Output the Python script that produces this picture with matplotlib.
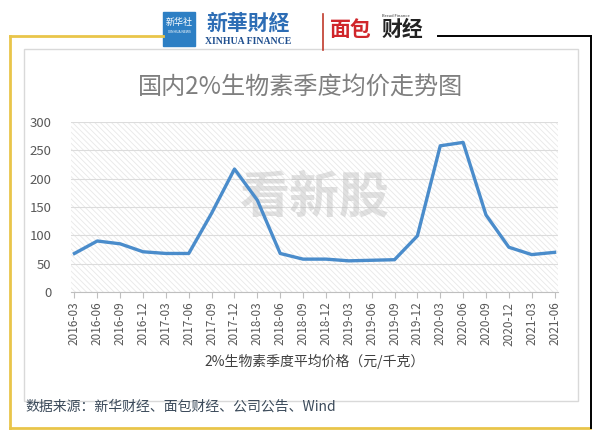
"""国内2%生物素季度均价走势图 — 折线图复刻."""
import matplotlib
matplotlib.use("Agg")
import matplotlib.pyplot as plt
from matplotlib.lines import Line2D
from matplotlib.patches import Rectangle

plt.rcParams["font.family"] = ["Noto Sans CJK SC", "DejaVu Sans"]
plt.rcParams["hatch.linewidth"] = 0.6

quarters = ["2016-03", "2016-06", "2016-09", "2016-12", "2017-03", "2017-06",
            "2017-09", "2017-12", "2018-03", "2018-06", "2018-09", "2018-12",
            "2019-03", "2019-06", "2019-09", "2019-12", "2020-03", "2020-06",
            "2020-09", "2020-12", "2021-03", "2021-06"]
prices = [68, 90, 85, 71, 68, 68, 139, 217, 162, 68, 58, 58,
          55, 56, 57, 99, 258, 264, 136, 79, 66, 70]
yticks = [0, 50, 100, 150, 200, 250, 300]

W, H = 600, 438
fig = plt.figure(figsize=(W / 100, H / 100), dpi=100)


def px(x, y):
    return x / W, 1 - y / H


# outer frame: gold left/bottom/top-left, black top-right/right
gold = "#e9c54a"
for (x0, y0), (x1, y1), c in [((10, 36), (163, 36), gold),
                              ((10, 36), (10, 428), gold),
                              ((10, 428), (590, 428), gold),
                              ((438, 36), (591, 36), "black"),
                              ((591, 36), (591, 428), "black")]:
    a, b = px(x0, y0)
    c2, d = px(x1, y1)
    fig.add_artist(Line2D([a, c2], [b, d], color=c, lw=2 if c == gold else 1.4))

# inner chart box
bx, by = px(24, 401)
fig.add_artist(Rectangle((bx, by), (578 - 24) / W, (401 - 49) / H,
                         fill=False, ec="#d9d9d9", lw=1))

# logos (text stand-ins)
lx, ly = px(163, 12)
fig.add_artist(Rectangle((lx, 1 - 46 / H), 32 / W, 34 / H, color="#2d7fc4"))
fig.text(*px(179, 22), "新华社", color="white", fontsize=6.5, ha="center", va="center")
fig.text(*px(179, 32), "XINHUA NEWS", color="white", fontsize=2.5, ha="center", va="center")
fig.text(*px(248, 23), "新華財経", color="#2d6db5", fontsize=15, ha="center",
         va="center", style="italic", weight="bold")
fig.text(*px(248, 41), "XINHUA FINANCE", color="#1f4f8f", fontsize=7,
         ha="center", va="center", family="Liberation Serif", weight="bold")
fig.add_artist(Line2D([323 / W, 323 / W], [1 - 14 / H, 1 - 50 / H], color="#c0392b", lw=1.2))
fig.text(*px(351, 29), "面包", color="#d0262b", fontsize=15, ha="center",
         va="center", weight="bold")
fig.text(*px(402, 29), "财经", color="#222222", fontsize=15, ha="center",
         va="center", weight="bold")
fig.text(*px(410, 16), "Bread Finance", color="#333333", fontsize=3, ha="right", va="center")

# plot area
x0, y0 = px(71, 292)
ax = fig.add_axes([x0, y0, (558 - 71) / W, (292 - 122) / H])
ax.add_patch(Rectangle((0, 0), 1, 1, transform=ax.transAxes, fill=False,
                       hatch="\\\\\\\\\\\\", ec="#e8e8e8", lw=0, zorder=0))
ax.set_facecolor("white")
ax.plot(range(len(prices)), prices, color="#4a8ccb", lw=2.4, zorder=3)
ax.set_ylim(0, 300)
ax.set_xlim(-0.15, len(prices) - 0.85)
ax.set_yticks(yticks)
ax.set_yticklabels([str(v) for v in yticks], color="#595959", fontsize=9.5)
ax.grid(axis="y", color="#dcdcdc", lw=0.8)
ax.set_axisbelow(True)
ax.set_xticks(range(len(quarters)))
ax.set_xticklabels(quarters, rotation=90, color="#595959", fontsize=8.5)
ax.tick_params(axis="y", length=0, pad=14)
ax.tick_params(axis="x", length=4, color="#bfbfbf", pad=3)
for s in ["top", "right", "left"]:
    ax.spines[s].set_visible(False)
ax.spines["bottom"].set_color("#bfbfbf")
ax.set_xlabel("2%生物素季度平均价格（元/千克）", color="#404040", fontsize=10, labelpad=6)

# watermark
ax.text(0.5, 0.55, "看新股", transform=ax.transAxes, fontsize=36, color="#b5b5b5",
        alpha=0.4, ha="center", va="center", weight="bold", style="italic", zorder=1)

fig.text(*px(301, 88), "国内2%生物素季度均价走势图", color="#7f7f7f", fontsize=17.4,
         ha="center", va="center")
fig.text(*px(25, 407), "数据来源：新华财经、面包财经、公司公告、Wind", color="#3b4a5a",
         fontsize=10, ha="left", va="center")

fig.savefig("out.png", dpi=100)
